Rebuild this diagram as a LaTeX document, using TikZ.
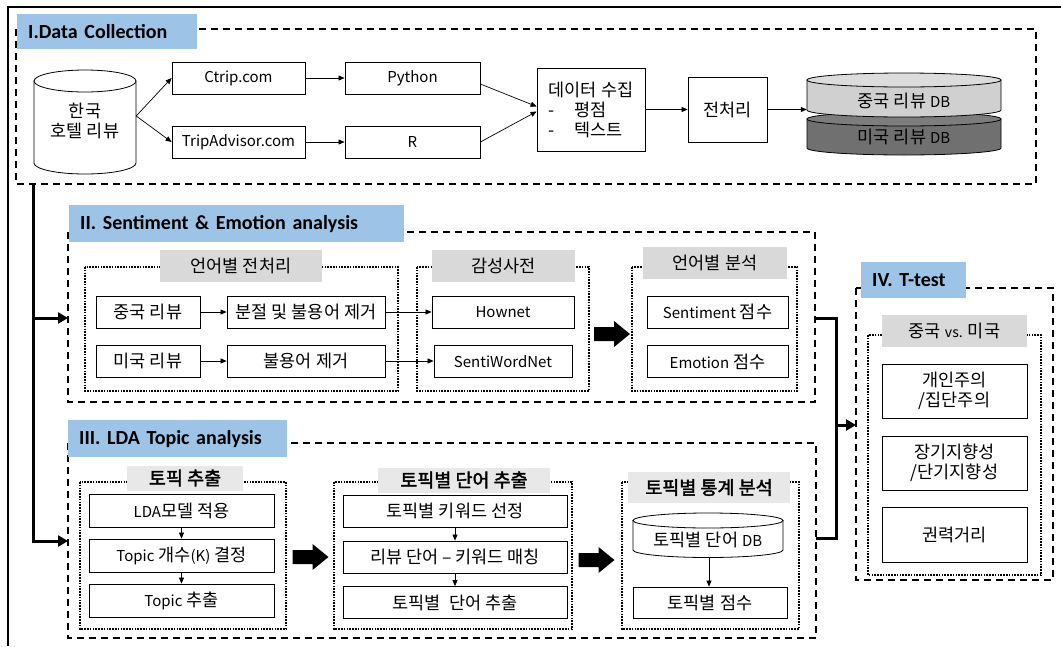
\documentclass[tikz,border=0pt]{standalone}
\usepackage{fontspec}
\setmainfont{Noto Sans CJK KR}
\newfontfamily\krbold{Noto Sans CJK KR}[FakeBold=2]
\newfontfamily\titlefont{Carlito}
\usetikzlibrary{arrows.meta}
\definecolor{lblue}{RGB}{157,195,230}
\definecolor{lgray}{RGB}{217,217,217}
\definecolor{lgraytwo}{RGB}{232,232,232}
\definecolor{dbtop}{RGB}{208,208,208}
\definecolor{dbtoptop}{RGB}{220,220,220}
\definecolor{dbdark}{RGB}{112,112,112}
\definecolor{dbdarktop}{RGB}{125,125,125}
\newcommand\kf{\fontsize{17.5}{20}\selectfont}
\newcommand\ef{\fontsize{15}{17}\selectfont}
\newcommand\tf{\titlefont\bfseries\fontsize{20}{22}\selectfont}
\newcommand\drawcyl[7]{%
  \filldraw[line width=0.8pt, fill=#6] (#1,#3) -- (#1,#4)
    arc[start angle=180, end angle=360, x radius={(#2-#1)/2*1pt}, y radius=#5 pt]
    -- (#2,#3) -- cycle;
  \filldraw[line width=0.8pt, fill=#7] ({(#1+#2)/2},#3) ellipse [x radius={(#2-#1)/2*1pt}, y radius=#5 pt];}
\newcommand\blockarr[2]{%
  \fill[black] ({#1-18},{#2-7}) -- ({#1+2},{#2-7}) -- ({#1+2},{#2-13}) -- ({#1+18},#2)
    -- ({#1+2},{#2+13}) -- ({#1+2},{#2+7}) -- ({#1-18},{#2+7}) -- cycle;}
\tikzset{
  box/.style={draw, line width=0.8pt, fill=white, inner sep=0pt, align=center, font=\kf},
  ebox/.style={box, font=\ef},
  ar/.style={-{Triangle[length=6pt,width=5pt]}, line width=0.7pt},
  dbox/.style={draw, line width=1.4pt, dash pattern=on 7pt off 5pt},
  obox/.style={draw, line width=1.6pt, dash pattern=on 1.6pt off 1.2pt},
  thk/.style={line width=3pt},
  thkar/.style={line width=3pt, -{Triangle[length=10pt,width=11pt]}},
  blab/.style={fill=lblue, inner xsep=11pt, inner ysep=0pt, anchor=north west, align=left, font=\tf},
  glab/.style={fill=lgray, inner sep=0pt, font=\kf},
  glabb/.style={fill=lgraytwo, inner sep=0pt, font=\krbold\fontsize{18.5}{20}\selectfont},
  plain/.style={inner sep=0pt, align=center, font=\kf},
}
\begin{document}
\begin{tikzpicture}[x=1pt,y=-1pt]
\useasboundingbox (0,0) rectangle (1061,646);
% outer frame
\draw[line width=2pt] (1061,7) -- (8,7) -- (8,646);

% ===== Section I =====
\draw[dbox] (16,29) rectangle (1036,184);
\node[blab, text width=158, minimum height=35] (lab1) at (17,14) {I.Data Collection};
\drawcyl{34}{136}{81}{163}{11}{white}{white}
\node[plain, minimum width=102, minimum height=60] (kr) at (85,121) {한국\\호텔 리뷰};
\node[ebox, minimum width=133, minimum height=32] (ctrip) at (238.5,78) {Ctrip.com};
\node[ebox, minimum width=133, minimum height=32] (trip) at (238.5,142) {TripAdvisor.com};
\node[ebox, minimum width=135, minimum height=32] (py) at (412.5,78) {Python};
\node[ebox, minimum width=135, minimum height=32] (rr) at (412.5,142) {R};
\node[box, minimum width=108, minimum height=83, align=left] (col) at (591,109.5)
  {데이터 수집\\-\hspace{1.1em}평점\\-\hspace{1.1em}텍스트};
\node[box, minimum width=79, minimum height=65] (pre) at (727.5,109.5) {전처리};
\drawcyl{807}{1001}{119}{148}{7}{dbdark}{dbdarktop}
\drawcyl{807}{1001}{80}{110}{7}{dbtop}{dbtoptop}
\node[plain, minimum width=194, minimum height=28] (cndb) at (904,101) {중국 리뷰 {\ef DB}};
\node[plain, minimum width=194, minimum height=28] (usdb) at (904,137) {미국 리뷰 {\ef DB}};
\coordinate (krfork) at ([yshift=5pt]kr.east);
\draw[ar] (krfork) -- (ctrip.west);
\draw[ar] (krfork) -- (trip.west);
\draw[ar] (ctrip) -- (py);
\draw[ar] (trip) -- (rr);
\draw[ar] ([yshift=-6pt]py.east) -- ([yshift=3pt]col.west);
\draw[ar] (rr.east) -- ([yshift=-2pt]col.west);
\draw[ar] (col.east) -- (pre.west);
\draw[ar] (pre.east) -- (pre.east -| cndb.west);

% ===== thick left line =====
\coordinate (t0) at (33,184);
\coordinate (t1) at (33,541);
\coordinate (tm) at (33,318);
\coordinate (s2w) at (68,318);
\coordinate (s3w) at (68,541);
\draw[thk] (t0) -- (t1);
\draw[thkar] (tm) -- (s2w);
\draw[thkar] ([xshift=-1.5pt]t1) -- (s3w);

% ===== Section II =====
\draw[dbox] (68,232) rectangle (815,402);
\node[blab, text width=313, minimum height=37] (lab2) at (69,205) {II. Sentiment \& Emotion analysis};
\draw[obox] (85,267) rectangle (398,391);
\node[glab, minimum width=162, minimum height=32] (g21) at (241,266) {언어별 전처리};
\node[box, minimum width=104, minimum height=32] (cn) at (148,312) {중국 리뷰};
\node[box, minimum width=158, minimum height=32] (seg) at (306,312) {분절 및 불용어 제거};
\node[box, minimum width=104, minimum height=32] (us) at (148,361) {미국 리뷰};
\node[box, minimum width=158, minimum height=32] (stp) at (306,361) {불용어 제거};
\draw[obox] (417,267) rectangle (589,391);
\node[glab, minimum width=143, minimum height=32] (g22) at (503.5,266) {감성사전};
\node[ebox, minimum width=142, minimum height=32] (hn) at (503,312) {Hownet};
\node[ebox, minimum width=138, minimum height=32] (swn) at (503,361.5) {SentiWordNet};
\blockarr{612}{334}
\draw[obox] (632,267) rectangle (797,391);
\node[glab, minimum width=144, minimum height=32] (g23) at (715,263) {언어별 분석};
\node[box, minimum width=141, minimum height=32] (sent) at (717.5,312) {{\ef Sentiment} 점수};
\node[box, minimum width=141, minimum height=32] (emo) at (717.5,361.5) {{\ef Emotion} 점수};
\draw[ar] (cn) -- (seg);
\draw[ar] (us) -- (stp);
\draw[ar] (seg) -- (hn);
\draw[ar] (stp) -- (stp -| swn.west);

% ===== Section III =====
\draw[dbox] (68,443) rectangle (816,638);
\node[blab, text width=197, minimum height=37] (lab3) at (68,420) {III. LDA Topic analysis};
\draw[obox] (80,482) rectangle (286,629);
\node[glabb, minimum width=116, minimum height=25] (g31) at (185,478) {토픽 추출};
\node[box, minimum width=185, minimum height=33] (lda) at (181.5,510.5) {{\ef LDA}모델 적용};
\node[box, minimum width=185, minimum height=33] (kk) at (181.5,555.5) {{\ef Topic} 개수{\ef (K)} 결정};
\node[box, minimum width=185, minimum height=33] (te) at (181.5,600.5) {{\ef Topic} 추출};
\draw[ar] (lda) -- (kk);
\draw[ar] (kk) -- (te);
\blockarr{310.5}{557}
\draw[obox] (334,482) rectangle (572,629);
\node[glabb, minimum width=172, minimum height=25] (g32) at (464,480) {토픽별 단어 추출};
\node[box, minimum width=224, minimum height=32] (kw) at (455,511) {토픽별 키워드 선정};
\node[box, minimum width=224, minimum height=32] (mt) at (455,557) {리뷰 단어 – 키워드 매칭};
\node[box, minimum width=224, minimum height=32] (wx) at (455,602.5) {토픽별\enspace 단어 추출};
\draw[ar] (kw) -- (mt);
\draw[ar] (mt) -- (wx);
\blockarr{596.5}{560}
\draw[obox] (622,482) rectangle (799,629);
\node[glabb, minimum width=162, minimum height=31] (g33) at (709,487.5) {토픽별 통계 분석};
\drawcyl{633}{783}{520.5}{550}{7.5}{white}{white}
\node[plain, minimum width=150, minimum height=28] (tdb) at (708,540) {토픽별 단어 {\ef DB}};
\node[box, minimum width=154, minimum height=31] (score) at (710,602.5) {토픽별 점수};
\coordinate (tdbb) at (709,557.5);
\draw[ar] (tdbb) -- (tdbb |- score.north);

% ===== bracket to IV =====
\coordinate (b0) at (815,318);
\coordinate (b1) at (836,318);
\coordinate (b2) at (836,538);
\coordinate (b3) at (816,538);
\coordinate (bm) at (836,425);
\coordinate (s4w) at (856,425);
\draw[thk] (b0) -- (b1) -- (b2) -- (b3);
\draw[thkar] (bm) -- (s4w);

% ===== Section IV =====
\draw[dbox] (856,288) rectangle (1053,580);
\node[blab, text width=83, minimum height=36] (lab4) at (861,262) {IV. T-test};
\draw[obox] (868,335) rectangle (1041,575);
\node[glab, minimum width=145, minimum height=32] (g41) at (954.5,331) {중국 {\fontsize{14}{15}\selectfont vs.} 미국};
\node[box, minimum width=145, minimum height=54] (ind) at (954.5,391) {개인주의\\/집단주의};
\node[box, minimum width=145, minimum height=54] (lt) at (954.5,463) {장기지향성\\/단기지향성};
\node[box, minimum width=145, minimum height=55] (pd) at (954.5,534.5) {권력거리};
\end{tikzpicture}
\end{document}
